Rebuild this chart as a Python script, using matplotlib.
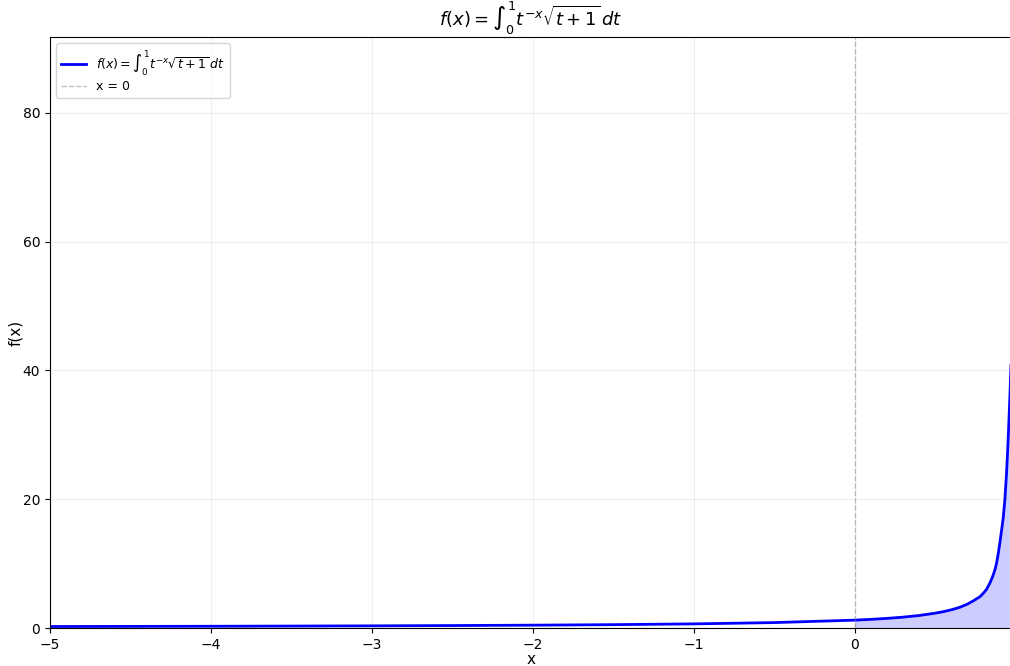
import numpy as np
import matplotlib
matplotlib.use("Agg")
import matplotlib.pyplot as plt

# values
x_vals = [-5.0, -4.5, -4.0, -3.5, -3.0, -2.5, -2.0, -1.5, -1.0, -0.5,
          0.0, 0.1, 0.2, 0.3, 0.4, 0.5, 0.55, 0.6, 0.654, 0.7, 0.74,
          0.779, 0.80, 0.82, 0.841, 0.855, 0.865, 0.875, 0.883, 0.893,
          0.903, 0.913, 0.924, 0.934, 0.944, 0.951, 0.957, 0.961,
          0.965, 0.975]
f_vals = [0.23, 0.25, 0.27, 0.30, 0.335, 0.38, 0.44, 0.52, 0.64, 0.84,
          1.22, 1.34, 1.49, 1.68, 1.94, 2.30, 2.53, 2.82, 3.22, 3.70, 4.25,
          4.86, 5.4, 6.0, 7.0, 7.8, 8.5, 9.3, 10.2, 11.6,
          13.3, 15.1, 17.2, 20.0, 24.0, 27.5, 31.0, 33.5,
          36.0, 43.0]

label_f = r'$f(x) = \int_0^1 t^{-x}\sqrt{t+1}\,dt$'

x = np.array(x_vals)
y = np.array(f_vals)

fig = plt.figure(figsize=(10.1, 6.66), dpi=100)
ax = fig.add_axes([50 / 1010, 38 / 666, 961.5 / 1010, 591 / 666])

ax.plot(x, y, color='blue', linewidth=2, label=label_f)
pos = x >= 0
ax.fill_between(x[pos], y[pos], 0, color='blue', alpha=0.2, linewidth=0)
ax.axvline(0, color='gray', linestyle='--', linewidth=1, alpha=0.5, label='x = 0')

ax.set_xlim(-5, 0.975)
ax.set_ylim(0, 91.8)
ax.set_xticks([-5, -4, -3, -2, -1, 0])
ax.set_yticks([0, 20, 40, 60, 80])
ax.grid(True, alpha=0.2)
ax.set_xlabel('x', fontsize=11, labelpad=0)
ax.set_ylabel('f(x)', fontsize=11, labelpad=0)
ax.set_title(label_f, fontsize=13)
ax.legend(loc='upper left', fontsize=9, labelspacing=0.2)

fig.savefig('out.png', dpi=100)
